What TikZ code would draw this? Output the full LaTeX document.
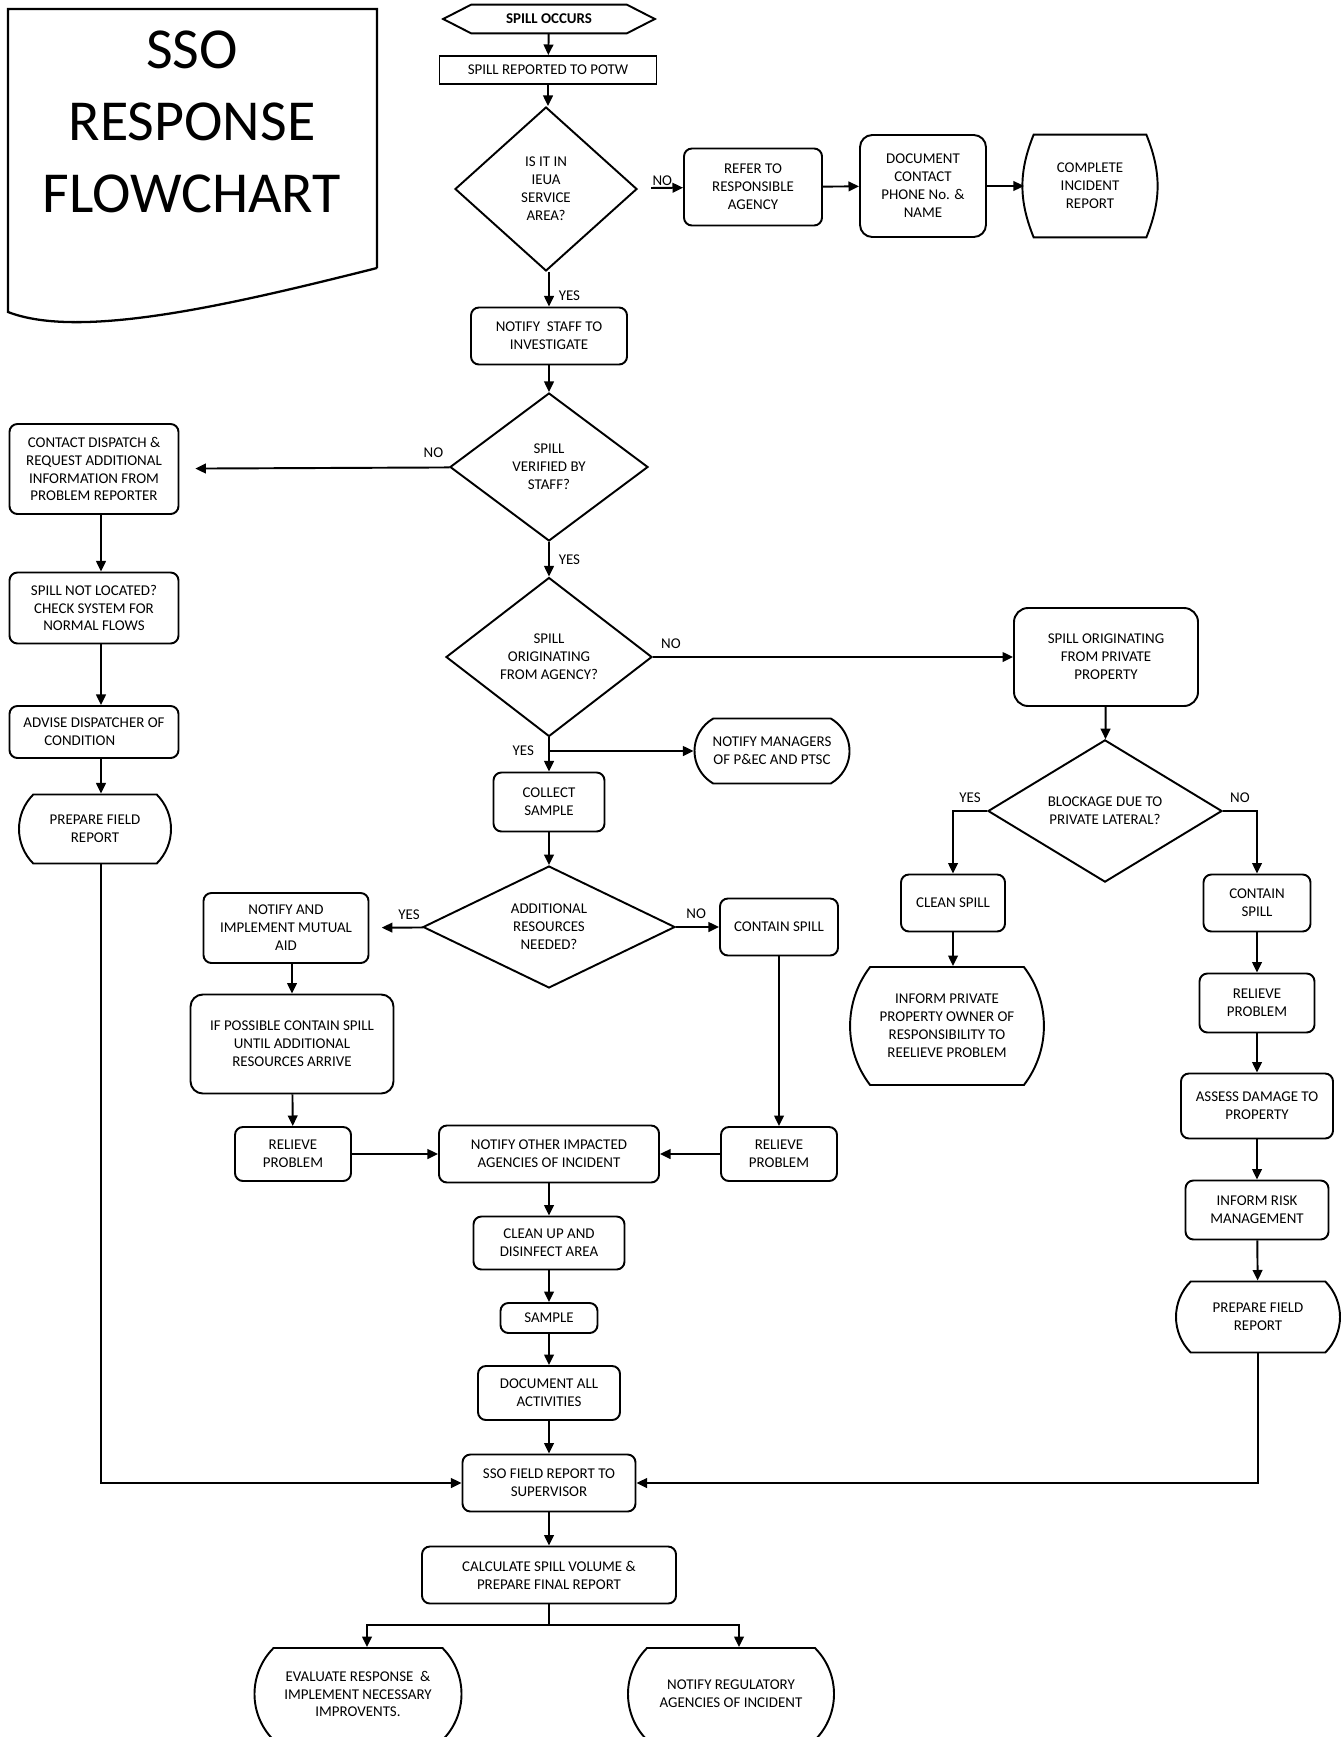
\documentclass[tikz,border=0pt]{standalone}
\usepackage{fontspec}
\setmainfont{Carlito}
\usetikzlibrary{shapes.geometric,shapes.misc,arrows.meta}

\begin{document}
\begin{tikzpicture}[x=0.2mm,y=0.2mm]
\tikzstyle{every node}+=[inner sep=0pt, align=center, font=\fontsize{8.5}{10.2}\selectfont]
\tikzstyle{box}=[draw, line width=1.1pt, rounded corners=4.5pt]
\tikzstyle{term}=[draw, line width=1.1pt, rounded rectangle, rounded rectangle arc length=90]
\tikzstyle{dec}=[draw, line width=1.1pt, diamond]
\tikzstyle{link}=[line width=1.1pt]
\tikzstyle{flow}=[line width=1.1pt, -{Triangle[length=6pt,width=5.5pt]}]
\tikzstyle{lbl}=[inner sep=1pt]
\useasboundingbox (0,0) rectangle (1343,-1737);
% title sheet
\draw [line width=1.3pt] (377,-268) -- (377,-9) -- (8,-9) -- (8,-312) .. controls (80,-340) and (230,-305) .. (377,-268);
\node (title) at (192,-122) [font=\fontsize{33}{41}\selectfont] {SSO\\RESPONSE\\FLOWCHART};
% main column
\node (occurs) at (549,-19) [minimum width=4.22cm, minimum height=0.56cm, font=\bfseries\fontsize{8.5}{10.2}\selectfont] {SPILL OCCURS};
\draw [link] (occurs.west) -- ([xshift=0.56cm]occurs.north west) -- ([xshift=-0.56cm]occurs.north east) -- (occurs.east) -- ([xshift=-0.56cm]occurs.south east) -- ([xshift=0.56cm]occurs.south west) -- cycle;
\node [box, sharp corners, minimum width=4.34cm, minimum height=0.56cm] (reported) at (548,-70) {SPILL REPORTED TO POTW};
\node [dec, minimum width=3.64cm, minimum height=3.28cm] (area) at (546,-189) {IS IT IN\\IEUA\\SERVICE\\AREA?};
\node [box, minimum width=2.76cm, minimum height=1.54cm] (refer) at (753,-187) {REFER TO\\RESPONSIBLE\\AGENCY};
\node [box, rounded corners=7pt, minimum width=2.52cm, minimum height=2.04cm] (contact) at (923,-186) {DOCUMENT\\CONTACT\\PHONE No. \&\\NAME};
\node [minimum width=2.24cm, minimum height=2.04cm] (complete) at (1090,-186) {COMPLETE\\INCIDENT\\REPORT};
\draw [link] (complete.north west) to [bend right=22] (complete.south west) -- (complete.south east) to [bend right=22] (complete.north east) -- cycle;
\node [box, minimum width=3.12cm, minimum height=1.14cm] (staff) at (549,-336) {NOTIFY\ \ STAFF TO\\INVESTIGATE};
\node [dec, minimum width=3.96cm, minimum height=2.96cm] (verified) at (549,-467) {SPILL\\VERIFIED BY\\STAFF?};
\node [dec, minimum width=4.12cm, minimum height=3.18cm] (origin) at (549,-657) {SPILL\\ORIGINATING\\FROM AGENCY?};
\coordinate (branch) at (549,-751);
\node [term, rounded rectangle arc length=120, minimum width=3.10cm, minimum height=1.30cm] (managers) at (772,-751) {NOTIFY MANAGERS\\OF P\&EC AND PTSC};
\node [box, minimum width=2.22cm, minimum height=1.18cm] (collect) at (549,-802) {COLLECT\\SAMPLE};
\node [dec, minimum width=5.04cm, minimum height=2.34cm] (resources) at (549,-927) {ADDITIONAL\\RESOURCES\\NEEDED?};
\node [box, minimum width=3.30cm, minimum height=1.40cm] (mutual) at (286,-928) {NOTIFY AND\\IMPLEMENT MUTUAL\\AID};
\node [box, minimum width=2.36cm, minimum height=1.14cm] (containmid) at (779,-927) {CONTAIN SPILL};
\node [box, rounded corners=7pt, minimum width=4.06cm, minimum height=1.98cm] (ifpossible) at (292,-1044) {IF POSSIBLE CONTAIN SPILL\\UNTIL ADDITIONAL\\RESOURCES ARRIVE};
\node [box, minimum width=2.32cm, minimum height=1.08cm] (relieveleft) at (293,-1154) {RELIEVE\\PROBLEM};
\node [box, minimum width=4.40cm, minimum height=1.14cm] (agencies) at (549,-1154) {NOTIFY OTHER IMPACTED\\AGENCIES OF INCIDENT};
\node [box, minimum width=2.32cm, minimum height=1.08cm] (relievemid) at (779,-1154) {RELIEVE\\PROBLEM};
\node [box, minimum width=3.02cm, minimum height=1.06cm] (cleanup) at (549,-1243) {CLEAN UP AND\\DISINFECT AREA};
\node [box, minimum width=1.94cm, minimum height=0.60cm] (sample) at (549,-1318) {SAMPLE};
\node [box, minimum width=2.84cm, minimum height=1.08cm] (docall) at (549,-1393) {DOCUMENT ALL\\ACTIVITIES};
\node [box, minimum width=3.46cm, minimum height=1.14cm] (supervisor) at (549,-1483) {SSO FIELD REPORT TO\\SUPERVISOR};
\node [box, minimum width=5.08cm, minimum height=1.14cm] (volume) at (549,-1575) {CALCULATE SPILL VOLUME \&\\PREPARE FINAL REPORT};
\coordinate (split) at (549,-1625);
\node [term, minimum width=4.14cm, minimum height=1.84cm] (evaluate) at (358,-1694) {EVALUATE RESPONSE\ \ \&\\IMPLEMENT NECESSARY\\IMPROVENTS.};
\node [term, minimum width=4.12cm, minimum height=1.84cm] (regulatory) at (731,-1694) {NOTIFY REGULATORY\\AGENCIES OF INCIDENT};
% left column
\node [box, minimum width=3.38cm, minimum height=1.80cm] (dispatch) at (94,-469) {CONTACT DISPATCH \&\\REQUEST ADDITIONAL\\INFORMATION FROM\\PROBLEM REPORTER};
\node [box, minimum width=3.38cm, minimum height=1.42cm] (notlocated) at (94,-608) {SPILL NOT LOCATED?\\CHECK SYSTEM FOR\\NORMAL FLOWS};
\node [box, align=left, minimum width=3.38cm, minimum height=1.04cm] (advise) at (94,-732) {ADVISE DISPATCHER OF\\\hspace*{1.4em}CONDITION};
\node [term, minimum width=3.04cm, minimum height=1.38cm] (fieldleft) at (95,-829) {PREPARE FIELD\\REPORT};
% right column
\node [box, rounded corners=8pt, minimum width=3.68cm, minimum height=1.96cm] (private) at (1106,-657) {SPILL ORIGINATING\\FROM PRIVATE\\PROPERTY};
\node [dec, minimum width=4.68cm, minimum height=2.74cm] (lateral) at (1105,-811) {BLOCKAGE DUE TO\\PRIVATE LATERAL?};
\node [box, minimum width=2.08cm, minimum height=1.14cm] (clean) at (953,-903) {CLEAN SPILL};
\node [term, rounded rectangle arc length=75, minimum width=3.84cm, minimum height=2.36cm] (owner) at (947,-1026) {INFORM PRIVATE\\PROPERTY OWNER OF\\RESPONSIBILITY TO\\REELIEVE PROBLEM};
\node [box, minimum width=2.14cm, minimum height=1.14cm] (containright) at (1257,-903) {CONTAIN\\SPILL};
\node [box, minimum width=2.30cm, minimum height=1.18cm] (relieveright) at (1257,-1003) {RELIEVE\\PROBLEM};
\node [box, minimum width=3.04cm, minimum height=1.30cm] (assess) at (1257,-1106) {ASSESS DAMAGE TO\\PROPERTY};
\node [box, minimum width=2.86cm, minimum height=1.18cm] (risk) at (1257,-1210) {INFORM RISK\\MANAGEMENT};
\node [term, minimum width=3.28cm, minimum height=1.42cm] (fieldright) at (1258,-1317) {PREPARE FIELD\\REPORT};
% connectors
\draw [flow] (occurs) -- (reported);
\draw [flow] (reported.south) -- (reported.south |- area.north);
\draw [flow, shorten <=8pt] (area) -- node [lbl, above, pos=0.55] {NO} (refer);
\draw [flow] (refer) -- (contact);
\draw [flow, shorten >=5.5pt] (contact) -- (complete.west);
\draw [flow] (staff.north |- area.south) -- node [lbl, right=4pt, pos=0.68] {YES} (staff);
\draw [flow] (staff) -- (verified);
\draw [flow, shorten >=9pt] (verified) -- node [lbl, above=4pt, pos=0.06] {NO} (dispatch);
\draw [flow] (verified) -- node [lbl, right=4pt, pos=0.5] {YES} (origin);
\draw [flow] (origin) -- node [lbl, above=3pt, pos=0.05] {NO} (private);
\draw [flow] (origin) -- node [lbl, left=7pt, pos=0.4] {YES} (collect);
\draw [flow] (branch) -- (branch -| managers.west);
\draw [flow] (collect) -- (resources);
\draw [flow, shorten >=7pt] (resources) -- node [lbl, above=3pt, pos=0.26] {YES} (mutual);
\draw [flow] (resources) -- node [lbl, above=3pt, pos=0.47] {NO} (containmid);
\draw [flow] (ifpossible.north |- mutual.south) -- (ifpossible.north);
\draw [flow] (ifpossible) -- (relieveleft);
\draw [flow] (relieveleft) -- (agencies);
\draw [flow] (containmid) -- (relievemid);
\draw [flow] (relievemid) -- (agencies);
\draw [flow] (agencies) -- (cleanup);
\draw [flow] (cleanup) -- (sample);
\draw [flow] (sample) -- (docall);
\draw [flow] (docall) -- (supervisor);
\draw [flow] (supervisor) -- (volume);
\draw [link] (volume) -- (split);
\draw [flow] (split) -| ([xshift=0.18cm]evaluate.north);
\draw [flow] (split) -| ([xshift=0.16cm]regulatory.north);
\draw [flow] ([xshift=0.14cm]dispatch.south) -- ([xshift=0.14cm]notlocated.north);
\draw [flow] ([xshift=0.14cm]notlocated.south) -- ([xshift=0.14cm]advise.north);
\draw [flow] ([xshift=0.14cm]advise.south) -- ([xshift=0.12cm]fieldleft.north);
\draw [flow] ([xshift=0.12cm]fieldleft.south) |- (supervisor.west);
\draw [flow] (private) -- (lateral);
\draw [flow] (lateral.west) -| node [lbl, above=3pt, pos=0.25] {YES} (clean.north);
\draw [flow] (lateral.east) -| node [lbl, above=3pt, pos=0.25] {NO} (containright.north);
\draw [flow] (clean.south) -- (clean.south |- owner.north);
\draw [flow] (containright) -- (relieveright);
\draw [flow] (relieveright) -- (assess);
\draw [flow] (assess) -- (risk);
\draw [flow] (risk) -- (fieldright);
\draw [flow] (fieldright.south) |- (supervisor.east);
\end{tikzpicture}
\end{document}
